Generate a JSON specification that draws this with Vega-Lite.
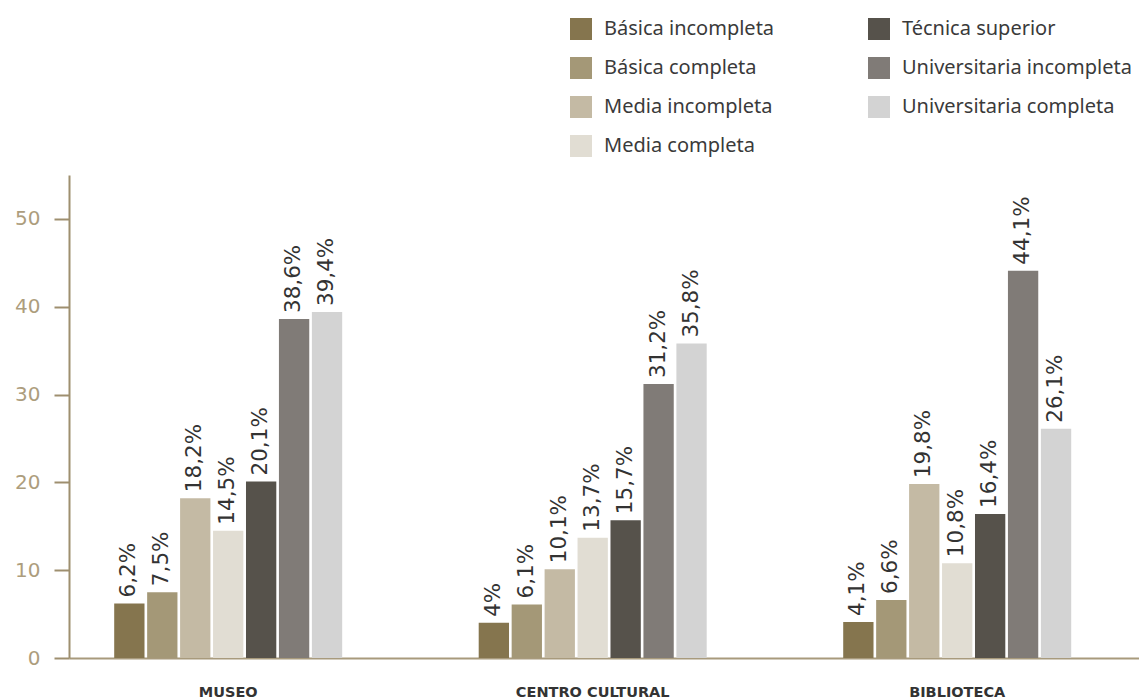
{
  "$schema": "https://vega.github.io/schema/vega-lite/v6.json",
  "width": 1070,
  "height": 483,
  "autosize": "none",
  "padding": {"left": 69, "top": 175, "right": 0, "bottom": 41},
  "background": "white",
  "config": {"view": {"stroke": null}},
  "data": {
    "values": [
      {"lugar": "MUSEO", "nivel": "Básica incompleta", "valor": 6.2, "label": "6,2%"},
      {"lugar": "MUSEO", "nivel": "Básica completa", "valor": 7.5, "label": "7,5%"},
      {"lugar": "MUSEO", "nivel": "Media incompleta", "valor": 18.2, "label": "18,2%"},
      {"lugar": "MUSEO", "nivel": "Media completa", "valor": 14.5, "label": "14,5%"},
      {"lugar": "MUSEO", "nivel": "Técnica superior", "valor": 20.1, "label": "20,1%"},
      {"lugar": "MUSEO", "nivel": "Universitaria incompleta", "valor": 38.6, "label": "38,6%"},
      {"lugar": "MUSEO", "nivel": "Universitaria completa", "valor": 39.4, "label": "39,4%"},
      {"lugar": "CENTRO CULTURAL", "nivel": "Básica incompleta", "valor": 4, "label": "4%"},
      {"lugar": "CENTRO CULTURAL", "nivel": "Básica completa", "valor": 6.1, "label": "6,1%"},
      {"lugar": "CENTRO CULTURAL", "nivel": "Media incompleta", "valor": 10.1, "label": "10,1%"},
      {"lugar": "CENTRO CULTURAL", "nivel": "Media completa", "valor": 13.7, "label": "13,7%"},
      {"lugar": "CENTRO CULTURAL", "nivel": "Técnica superior", "valor": 15.7, "label": "15,7%"},
      {"lugar": "CENTRO CULTURAL", "nivel": "Universitaria incompleta", "valor": 31.2, "label": "31,2%"},
      {"lugar": "CENTRO CULTURAL", "nivel": "Universitaria completa", "valor": 35.8, "label": "35,8%"},
      {"lugar": "BIBLIOTECA", "nivel": "Básica incompleta", "valor": 4.1, "label": "4,1%"},
      {"lugar": "BIBLIOTECA", "nivel": "Básica completa", "valor": 6.6, "label": "6,6%"},
      {"lugar": "BIBLIOTECA", "nivel": "Media incompleta", "valor": 19.8, "label": "19,8%"},
      {"lugar": "BIBLIOTECA", "nivel": "Media completa", "valor": 10.8, "label": "10,8%"},
      {"lugar": "BIBLIOTECA", "nivel": "Técnica superior", "valor": 16.4, "label": "16,4%"},
      {"lugar": "BIBLIOTECA", "nivel": "Universitaria incompleta", "valor": 44.1, "label": "44,1%"},
      {"lugar": "BIBLIOTECA", "nivel": "Universitaria completa", "valor": 26.1, "label": "26,1%"}
    ]
  },
  "encoding": {
    "x": {
      "field": "lugar",
      "type": "nominal",
      "sort": ["MUSEO", "CENTRO CULTURAL", "BIBLIOTECA"],
      "scale": {"paddingInner": 0.3745, "paddingOuter": 0.155, "align": 0.4},
      "axis": {
        "title": null,
        "labelAngle": 0,
        "ticks": false,
        "domainColor": "#a89a7c",
        "domainWidth": 2,
        "labelFont": "DejaVu Sans",
        "labelFontWeight": "bold",
        "labelFontSize": 14.5,
        "labelColor": "#333333",
        "labelPadding": 27
      }
    },
    "xOffset": {
      "field": "nivel",
      "type": "nominal",
      "sort": ["Básica incompleta", "Básica completa", "Media incompleta", "Media completa", "Técnica superior", "Universitaria incompleta", "Universitaria completa"],
      "scale": {"paddingInner": 0.08, "paddingOuter": 0}
    },
    "y": {
      "field": "valor",
      "type": "quantitative",
      "scale": {"domain": [0, 55], "nice": false},
      "axis": {
        "title": null,
        "values": [0, 10, 20, 30, 40, 50],
        "grid": false,
        "domainColor": "#9e8f6f",
        "domainWidth": 2,
        "tickColor": "#9e8f6f",
        "tickWidth": 2,
        "tickSize": 15,
        "labelPadding": 14,
        "labelFont": "DejaVu Sans",
        "labelFontSize": 20,
        "labelColor": "#ad9d7d"
      }
    }
  },
  "layer": [
    {
      "mark": {"type": "bar"},
      "encoding": {
        "color": {
          "field": "nivel",
          "type": "nominal",
          "scale": {
            "domain": ["Básica incompleta", "Básica completa", "Media incompleta", "Media completa", "Técnica superior", "Universitaria incompleta", "Universitaria completa"],
            "range": ["#85754e", "#a49877", "#c4baa4", "#e1ddd3", "#56524b", "#807b77", "#d3d3d3"]
          },
          "legend": {
            "title": null,
            "orient": "none",
            "legendX": 501,
            "legendY": -157,
            "columns": 2,
            "columnPadding": 93,
            "rowPadding": 17,
            "padding": 0,
            "symbolType": "square",
            "symbolSize": 484,
            "symbolStrokeWidth": 0,
            "symbolOpacity": 1,
            "labelOffset": 12,
            "labelFont": "Noto Sans",
            "labelFontSize": 20,
            "labelColor": "#3a3a3a",
            "labelLimit": 400
          }
        }
      }
    },
    {
      "mark": {"type": "text", "angle": 270, "align": "left", "baseline": "middle", "dx": 6, "font": "DejaVu Sans", "fontSize": 21.5, "color": "#333333"},
      "encoding": {"text": {"field": "label"}}
    }
  ]
}
